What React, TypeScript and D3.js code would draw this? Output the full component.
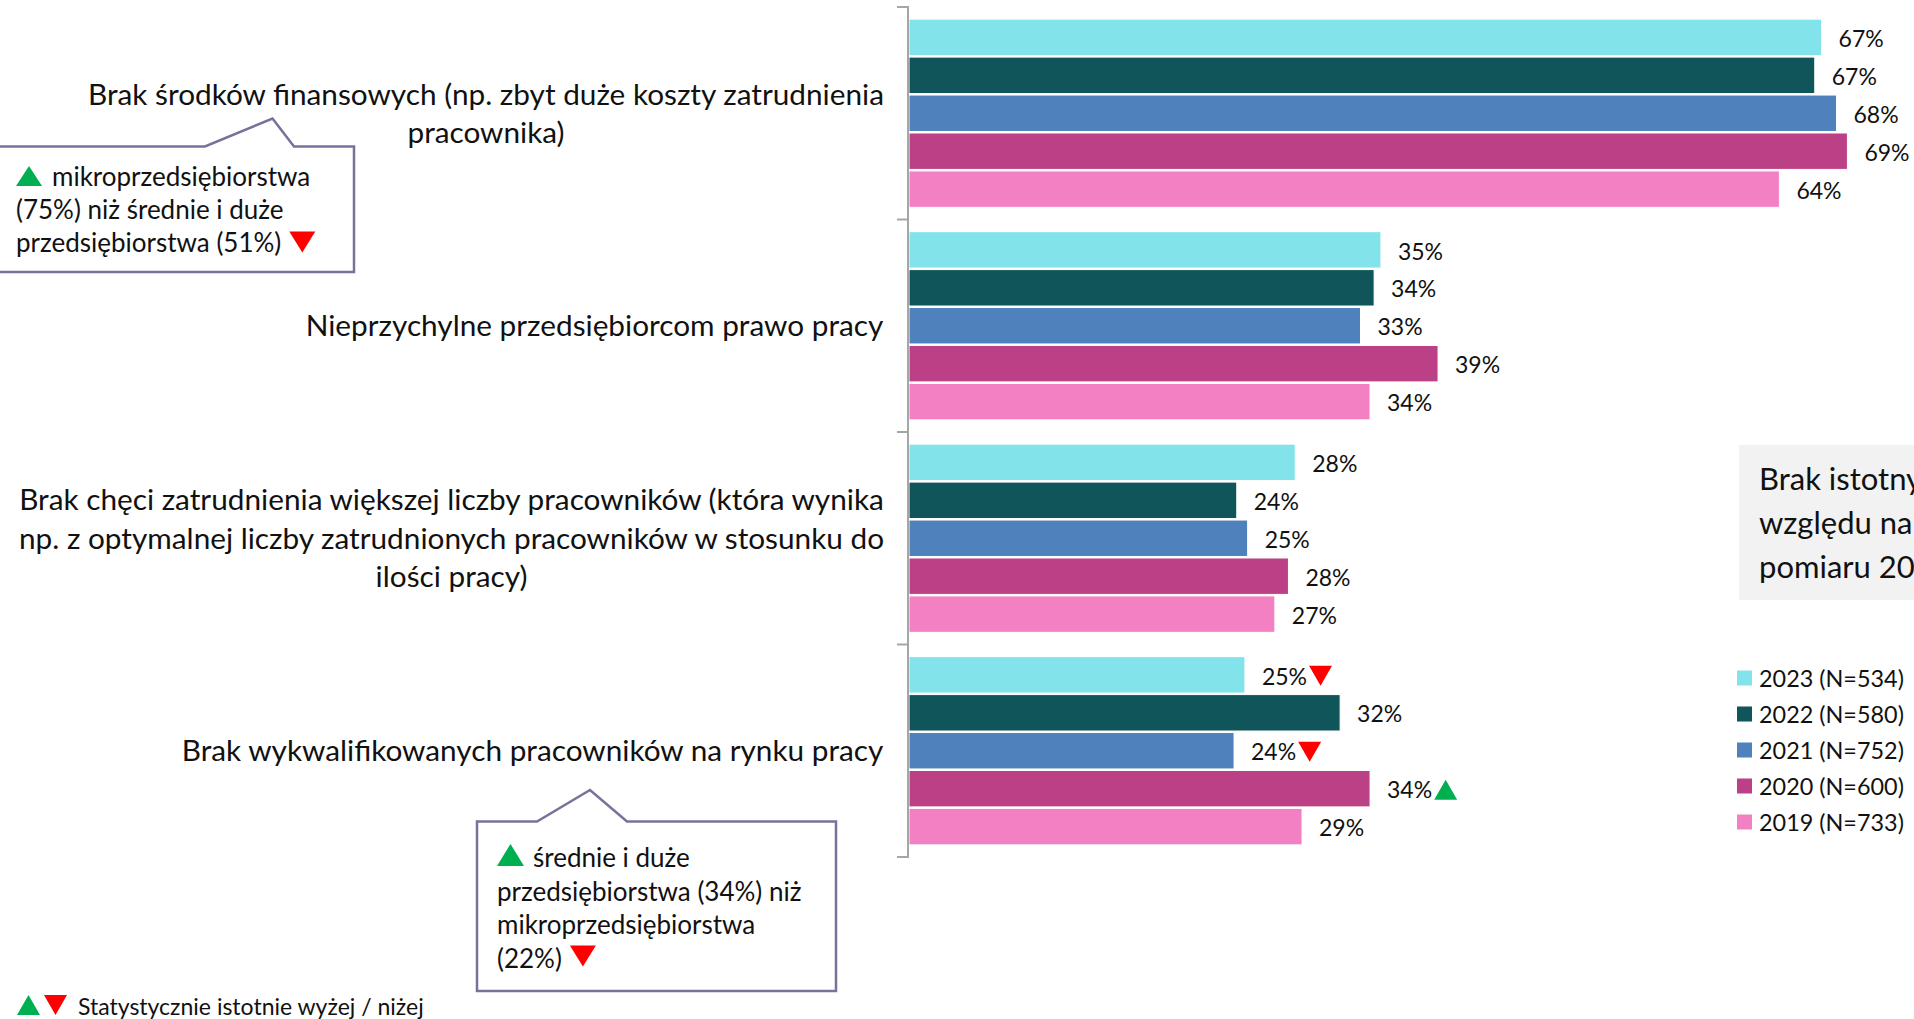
import React, { useEffect, useRef } from 'react';
import * as d3 from 'd3';

const W = 1914;
const H = 1019;
const FONT = 'Lato, "Open Sans", sans-serif';
const TEXT = '#111';
const GREEN = '#00B050';
const RED = '#FF0000';
const CALLOUT = '#76729C';

const categories = [
  ['Brak środków finansowych (np. zbyt duże koszty zatrudnienia', 'pracownika)'],
  ['Nieprzychylne przedsiębiorcom prawo pracy'],
  [
    'Brak chęci zatrudnienia większej liczby pracowników (która wynika',
    'np. z optymalnej liczby zatrudnionych pracowników w stosunku do',
    'ilości pracy)',
  ],
  ['Brak wykwalifikowanych pracowników na rynku pracy'],
];

const years = ['2023', '2022', '2021', '2020', '2019'];
const sampleSizes = [534, 580, 752, 600, 733];
const yearColors = ['#83E3EA', '#10555A', '#4F81BD', '#BB4086', '#F480C4'];

const values2023 = [67.1, 34.7, 28.4, 24.7];
const values2022 = [66.6, 34.2, 24.1, 31.7];
const values2021 = [68.2, 33.2, 24.9, 23.9];
const values2020 = [69.0, 38.9, 27.9, 33.9];
const values2019 = [64.0, 33.9, 26.9, 28.9];

// 1 = istotnie wyżej, -1 = istotnie niżej
const marks2023 = [0, 0, 0, -1];
const marks2022 = [0, 0, 0, 0];
const marks2021 = [0, 0, 0, -1];
const marks2020 = [0, 0, 0, 1];
const marks2019 = [0, 0, 0, 0];

const seriesValues = [values2023, values2022, values2021, values2020, values2019];
const seriesMarks = [marks2023, marks2022, marks2021, marks2020, marks2019];

const calloutTop = ['mikroprzedsiębiorstwa', '(75%) niż średnie i duże', 'przedsiębiorstwa (51%)'];
const calloutBottom = ['średnie i duże', 'przedsiębiorstwa (34%) niż', 'mikroprzedsiębiorstwa', '(22%)'];
const noteLines = ['Brak istotnych zmian ze', 'względu na rok', 'pomiaru 2023 vs 2022'];
const footnote = 'Statystycznie istotnie wyżej / niżej';

function tri(sel, x, cy, w, h, up) {
  const d = up
    ? `M${x},${cy + h / 2}L${x + w / 2},${cy - h / 2}L${x + w},${cy + h / 2}Z`
    : `M${x},${cy - h / 2}L${x + w},${cy - h / 2}L${x + w / 2},${cy + h / 2}Z`;
  sel.append('path').attr('d', d).attr('fill', up ? GREEN : RED);
}

export default function App() {
  const ref = useRef(null);

  useEffect(() => {
    const svg = d3.select(ref.current);
    svg.selectAll('*').remove();

    const x = d3.scaleLinear().domain([0, 100]).range([909, 2269]);
    const yGroup = d3
      .scaleBand()
      .domain(categories.map((_, i) => String(i)))
      .range([7, 857])
      .padding(0);
    const yBar = d3
      .scaleBand()
      .domain(years)
      .range([0, yGroup.bandwidth()])
      .paddingInner(0.04)
      .paddingOuter(0.32);

    // bars + labels
    categories.forEach((_, ci) => {
      const g = svg.append('g').attr('transform', `translate(0,${yGroup(String(ci))})`);
      years.forEach((yr, si) => {
        const v = seriesValues[si][ci];
        const y0 = yBar(yr);
        const bh = yBar.bandwidth();
        g.append('rect')
          .attr('x', x(0))
          .attr('y', y0)
          .attr('width', x(v) - x(0))
          .attr('height', bh)
          .attr('fill', yearColors[si])
          .attr('stroke', '#fff')
          .attr('stroke-width', 1);
        const t = g
          .append('text')
          .attr('x', x(v) + 17)
          .attr('y', y0 + bh / 2)
          .attr('dy', '0.42em')
          .attr('font-family', FONT)
          .attr('font-size', 23)
          .attr('fill', TEXT)
          .text(`${Math.round(v)}%`);
        const m = seriesMarks[si][ci];
        if (m !== 0) {
          const end = x(v) + 17 + t.node().getComputedTextLength();
          tri(g, end + 2, y0 + bh / 2 + 1, 23, 20, m > 0);
        }
      });
    });

    // axis line + ticks
    const axis = svg.append('g');
    axis
      .append('line')
      .attr('x1', x(0) - 1)
      .attr('x2', x(0) - 1)
      .attr('y1', yGroup.range()[0])
      .attr('y2', yGroup.range()[1])
      .attr('stroke', '#A6A6A6')
      .attr('stroke-width', 2);
    const tickYs = categories.map((_, i) => yGroup(String(i))).concat([yGroup.range()[1]]);
    axis
      .selectAll('line.tick')
      .data(tickYs)
      .join('line')
      .attr('class', 'tick')
      .attr('x1', x(0) - 12)
      .attr('x2', x(0))
      .attr('y1', (d) => d)
      .attr('y2', (d) => d)
      .attr('stroke', '#A6A6A6')
      .attr('stroke-width', 2);

    // category labels (centred blocks, right edge at axis)
    const lineH = 38.5;
    categories.forEach((lines, ci) => {
      const cy = yGroup(String(ci)) + yGroup.bandwidth() / 2;
      const g = svg.append('g');
      lines.forEach((ln, li) => {
        g.append('text')
          .attr('x', 0)
          .attr('y', cy + (li - (lines.length - 1) / 2) * lineH)
          .attr('dy', '0.36em')
          .attr('text-anchor', 'middle')
          .attr('font-family', FONT)
          .attr('font-size', 29.75)
          .attr('fill', TEXT)
          .text(ln);
      });
      const bb = g.node().getBBox();
      g.attr('transform', `translate(${884 - (bb.x + bb.width)},0)`);
    });

    // callout boxes
    const boxFont = 26;
    const boxLine = 33;
    svg
      .append('path')
      .attr('d', 'M-5,146.5L205,146.5L272.5,118.5L294,146.5L354,146.5L354,272L-5,272Z')
      .attr('fill', '#fff')
      .attr('stroke', CALLOUT)
      .attr('stroke-width', 2.5);
    const c1 = svg.append('g');
    calloutTop.forEach((ln, i) => {
      c1.append('text')
        .attr('x', i === 0 ? 52 : 16)
        .attr('y', 176.5 + i * boxLine)
        .attr('dy', '0.36em')
        .attr('font-family', FONT)
        .attr('font-size', boxFont)
        .attr('fill', TEXT)
        .text(ln);
    });
    tri(c1, 16, 176, 26, 20, true);
    {
      const last = c1.selectAll('text').nodes()[2];
      tri(c1, 16 + last.getComputedTextLength() + 8, 242, 26, 21, false);
    }

    svg
      .append('path')
      .attr('d', 'M477,821.5L537,821.5L590,790L627,821.5L836,821.5L836,991L477,991Z')
      .attr('fill', '#fff')
      .attr('stroke', CALLOUT)
      .attr('stroke-width', 2.5);
    const c2 = svg.append('g');
    calloutBottom.forEach((ln, i) => {
      c2.append('text')
        .attr('x', i === 0 ? 533 : 497)
        .attr('y', 858 + i * 33.5)
        .attr('dy', '0.36em')
        .attr('font-family', FONT)
        .attr('font-size', boxFont)
        .attr('fill', TEXT)
        .text(ln);
    });
    tri(c2, 497, 855, 27, 22, true);
    {
      const last = c2.selectAll('text').nodes()[3];
      tri(c2, 497 + last.getComputedTextLength() + 8, 956, 26, 21, false);
    }

    // grey note (cut by the right edge, as in the source)
    svg.append('rect').attr('x', 1739).attr('y', 445).attr('width', 400).attr('height', 155).attr('fill', '#F2F2F2');
    noteLines.forEach((ln, i) => {
      svg
        .append('text')
        .attr('x', 1759)
        .attr('y', 478.5 + i * 44)
        .attr('dy', '0.36em')
        .attr('font-family', FONT)
        .attr('font-size', 31)
        .attr('fill', TEXT)
        .text(ln);
    });

    // legend
    const leg = svg.append('g');
    years.forEach((yr, i) => {
      const cy = 678 + i * 36;
      leg
        .append('rect')
        .attr('x', 1737)
        .attr('y', cy - 7.5)
        .attr('width', 15)
        .attr('height', 15)
        .attr('fill', yearColors[i]);
      leg
        .append('text')
        .attr('x', 1759)
        .attr('y', cy)
        .attr('dy', '0.38em')
        .attr('font-family', FONT)
        .attr('font-size', 23.4)
        .attr('fill', TEXT)
        .text(`${yr} (N=${sampleSizes[i]})`);
    });

    // footnote
    tri(svg, 17, 1005, 23, 20, true);
    tri(svg, 44, 1005, 23, 20, false);
    svg
      .append('text')
      .attr('x', 78)
      .attr('y', 1007)
      .attr('dy', '0.36em')
      .attr('font-family', FONT)
      .attr('font-size', 23)
      .attr('fill', TEXT)
      .text(footnote);
  }, []);

  return (
    <>
      <style>{'body{margin:0;overflow:hidden}'}</style>
      <svg ref={ref} width={W} height={H} style={{ display: 'block', background: '#fff' }} />
    </>
  );
}
